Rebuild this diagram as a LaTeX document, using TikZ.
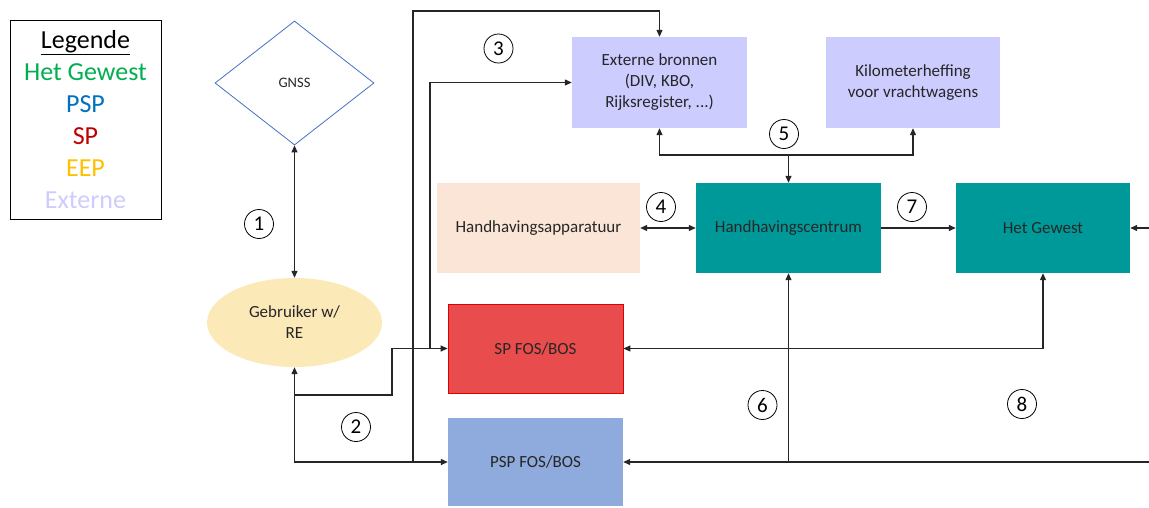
\documentclass[tikz,border=0pt]{standalone}
\usepackage{fontspec}
\setmainfont{Carlito}
\usetikzlibrary{shapes.geometric,arrows.meta}
\definecolor{teal1}{RGB}{0,153,153}
\definecolor{ext}{RGB}{204,204,255}
\definecolor{eep}{RGB}{251,229,214}
\definecolor{spred}{RGB}{232,76,76}
\definecolor{spborder}{RGB}{220,0,0}
\definecolor{pspblue}{RGB}{143,170,220}
\definecolor{gebfill}{RGB}{251,234,184}
\definecolor{gnssblue}{RGB}{68,114,196}
\definecolor{txt}{RGB}{38,38,38}
\definecolor{lgreen}{RGB}{0,176,80}
\definecolor{lblue}{RGB}{0,112,192}
\definecolor{lred}{RGB}{192,0,0}
\definecolor{lyellow}{RGB}{255,192,0}
\tikzset{
  box/.style={rectangle, inner sep=0pt, align=center, text=txt,
     font=\fontsize{17}{21}\selectfont},
  num/.style={circle, draw=black, line width=0.8pt, inner sep=0pt, minimum size=29,
     font=\fontsize{21}{21}\selectfont},
  conn/.style={line width=1.2pt, draw=black!85, -{Triangle[length=7pt,width=6pt]}},
  conn2/.style={line width=1.2pt, draw=black!85, {Triangle[length=7pt,width=6pt]}-{Triangle[length=7pt,width=6pt]}},
  plain/.style={line width=1.2pt, draw=black!85},
  legtxt/.style={font=\fontsize{26}{26}\selectfont, inner sep=0pt, anchor=base}
}
\begin{document}
\begin{tikzpicture}[x=1pt,y=-1pt]
\useasboundingbox[fill=white] (0,0) rectangle (1149,507);

% Legend
\node[draw=black, line width=1pt, minimum width=151, minimum height=199, inner sep=0pt] (legend) at (85.5,119.5) {};
\node[legtxt] (lg0) at (85.5,48) {\underline{Legende}};
\node[legtxt, text=lgreen] (lg1) at (85.5,80) {Het Gewest};
\node[legtxt, text=lblue] (lg2) at (85.5,112) {PSP};
\node[legtxt, text=lred] (lg3) at (85.5,144) {SP};
\node[legtxt, text=lyellow] (lg4) at (85.5,176) {EEP};
\node[legtxt, text=ext] (lg5) at (85.5,208) {Externe};

% Nodes
\node[diamond, draw=gnssblue, line width=0.8pt, minimum width=159, minimum height=124, inner sep=0pt, aspect=1.28,
      text=txt, font=\fontsize{14.5}{17}\selectfont] (gnss) at (294.5,83) {GNSS};
\node[box, fill=ext, minimum width=175, minimum height=91] (ext) at (659.5,82.5)
  {Externe bronnen\\(DIV, KBO,\\Rijksregister, ...)};
\node[box, fill=ext, minimum width=174, minimum height=91] (km) at (913,82.5)
  {Kilometerheffing\\voor vrachtwagens};
\node[box, fill=eep, minimum width=203, minimum height=90] (app) at (538.5,228) {Handhavingsapparatuur};
\node[box, fill=teal1, minimum width=185, minimum height=90] (hc) at (788.5,228) {Handhavingscentrum};
\node[box, fill=teal1, minimum width=174, minimum height=90] (gew) at (1043,228) {Het Gewest};
\node[ellipse, fill=gebfill, minimum width=175, minimum height=89, inner sep=0pt, align=center, text=txt,
      font=\fontsize{17}{21}\selectfont] (geb) at (294.5,322.5) {Gebruiker w/\\RE};
\node[box, fill=spred, draw=spborder, line width=0.8pt, minimum width=175, minimum height=89] (sp) at (535.5,348.5) {SP FOS/BOS};
\node[box, fill=pspblue, minimum width=175, minimum height=88] (psp) at (535.5,462) {PSP FOS/BOS};

% 1
\draw[conn2] (gnss.south) -- (geb.north);
% 2
\draw[conn2] (geb.south) -- (geb.south |- psp.west) -- (psp.west);
\coordinate (b2) at (294.5,395);
\draw[conn] (b2) -- (392,395) -- (392,348.5) -- (sp.west);
% 3
\coordinate (t3a) at (413,462);
\draw[conn] (t3a) -- (413,11) -- (ext.north |- 0,11) -- (ext.north);
\coordinate (t3b) at (430,348.5);
\draw[conn] (t3b) -- (430,82.5) -- (ext.west);
% 4
\draw[conn2] (app.east) -- (hc.west);
% 5
\coordinate (j5) at (788.5,155);
\draw[conn] (j5) -- (hc.north);
\draw[conn2] (ext.south) -- (ext.south |- j5) -- (km.south |- j5) -- (km.south);
% 6
\coordinate (r6) at (1149,462);
\draw[conn] (r6) -- (psp.east);
\draw[conn] (hc.south |- r6) -- (hc.south);
% 7
\draw[conn] (hc.east) -- (gew.west);
% 8
\draw[conn2] (sp.east) -- (sp.east -| gew.south) -- (gew.south);
\coordinate (r8) at (1149,228);
\draw[conn] (r8) -- (gew.east);

% numbers
\node[num] (n1) at (259,224) {1};
\node[num] (n2) at (356,427) {2};
\node[num] (n3) at (498.5,48.5) {3};
\node[num] (n4) at (661,207) {4};
\node[num] (n5) at (784,134) {5};
\node[num] (n6) at (762.5,405) {6};
\node[num] (n7) at (912,207) {7};
\node[num] (n8) at (1022,404) {8};
\end{tikzpicture}
\end{document}
